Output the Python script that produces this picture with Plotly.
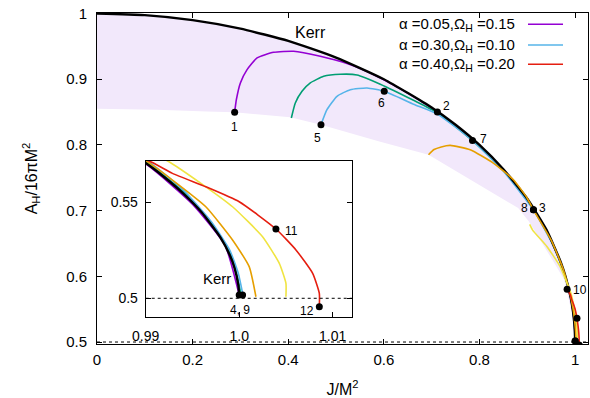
import plotly.graph_objects as go

# ---------------- data ----------------
kerr_J = [0.0, 0.1, 0.2, 0.3, 0.4, 0.5, 0.6, 0.7, 0.75, 0.8, 0.85, 0.9, 0.94, 0.97,
          0.98, 0.99, 0.992, 0.994, 0.996, 0.998, 0.999, 0.9995, 0.9999, 1.0]
kerr_A = [1.0, 0.9975, 0.9899, 0.977, 0.9583, 0.933, 0.9, 0.857, 0.8307, 0.8, 0.763, 0.718,
          0.671, 0.6216, 0.5995, 0.5705, 0.5631, 0.5547, 0.5447, 0.5316, 0.5224, 0.5158, 0.5071, 0.5017]

lower_J = [0.0, 0.126, 0.230, 0.2879, 0.404, 0.4685, 0.5925, 0.6934, 0.881, 0.903, 0.93, 0.955, 0.977, 0.993, 1.0]
lower_A = [0.855, 0.8537, 0.851, 0.8496, 0.842, 0.8308, 0.805, 0.785, 0.704, 0.684, 0.652, 0.622, 0.595, 0.545, 0.5017]

purple_J = [0.2879, 0.2915, 0.2999, 0.3139, 0.3348, 0.3695, 0.4113, 0.467, 0.523, 0.58, 0.64, 0.712,
            0.786, 0.85, 0.913, 0.95, 0.975, 0.99, 0.995, 0.9985, 1.0]
purple_A = [0.8496, 0.8689, 0.8944, 0.9146, 0.9325, 0.9410, 0.9426, 0.9349, 0.9238, 0.9065, 0.8830, 0.850,
            0.808, 0.762, 0.7025, 0.655, 0.610, 0.570, 0.549, 0.5274, 0.5017]

green_J = [0.4065, 0.4148, 0.4288, 0.4462, 0.474, 0.5089, 0.5438, 0.5925, 0.662, 0.711, 0.786, 0.85,
           0.913, 0.95, 0.975, 0.99, 0.994, 0.997, 0.999, 0.9998, 1.0002]
green_A = [0.841, 0.8639, 0.8816, 0.8944, 0.9044, 0.9075, 0.9065, 0.8925, 0.868, 0.8495, 0.806, 0.761,
           0.702, 0.654, 0.610, 0.5712, 0.5556, 0.5394, 0.5237, 0.5110, 0.5017]

blue_J = [0.4685, 0.481, 0.502, 0.5298, 0.5647, 0.6008, 0.662, 0.711, 0.7854, 0.85, 0.9129, 0.95, 0.975,
          0.990, 0.994, 0.997, 0.999, 0.9999, 1.0004]
blue_A = [0.8308, 0.8537, 0.874, 0.8841, 0.8867, 0.8816, 0.862, 0.8475, 0.8069, 0.760, 0.7012, 0.653, 0.609,
          0.5722, 0.5565, 0.5400, 0.5250, 0.5130, 0.5017]

orange_J = [0.6934, 0.705, 0.72, 0.7388, 0.7806, 0.829, 0.871, 0.899, 0.9129, 0.95, 0.975, 0.99,
            0.99286, 0.99643, 0.99929, 1.00107, 1.00179]
orange_A = [0.785, 0.793, 0.797, 0.7993, 0.7927, 0.7724, 0.747, 0.720, 0.7012, 0.655, 0.611, 0.5717,
            0.5616, 0.5477, 0.5304, 0.5165, 0.5008]

yellow_J = [0.905, 0.9115, 0.941, 0.9687, 0.986, 0.9923, 0.99643, 0.99929, 1.0025, 1.00429, 1.005, 1.005]
yellow_A = [0.679, 0.670, 0.6455, 0.6148, 0.5843, 0.5717, 0.5581, 0.5477, 0.5321, 0.5182, 0.5078, 0.5008]

red_J = [0.9833, 0.9903, 0.99286, 0.99643, 1.0, 1.00393, 1.00607, 1.00786, 1.00857, 1.00857]
red_A = [0.5803, 0.5717, 0.5651, 0.5581, 0.5503, 0.5361, 0.5252, 0.5130, 0.5026, 0.4956]

pt_id = ["1", "2", "3", "4", "5", "6", "7", "8", "9", "10", "11", "12"]
pt_J = [0.2879, 0.712, 0.9129, 1.0, 0.4685, 0.6008, 0.7854, 0.9129, 1.00036, 0.9833, 1.00393, 1.00857]
pt_A = [0.8496, 0.850, 0.7012, 0.5017, 0.8308, 0.8816, 0.8069, 0.7012, 0.5017, 0.5803, 0.5361, 0.4956]

legend_labels = ["α =0.05,Ω<sub>H</sub> =0.15", "α =0.30,Ω<sub>H</sub> =0.10", "α =0.40,Ω<sub>H</sub> =0.20"]

main_xticks = [0, 0.2, 0.4, 0.6, 0.8, 1.0]
main_xtext = ["0", "0.2", "0.4", "0.6", "0.8", "1"]
main_yticks = [0.5, 0.6, 0.7, 0.8, 0.9, 1.0]
main_ytext = ["0.5", "0.6", "0.7", "0.8", "0.9", "1"]
inset_xticks = [0.99, 1.0, 1.01]
inset_xtext = ["0.99", "1.0", "1.01"]
inset_yticks = [0.5, 0.55]
inset_ytext = ["0.5", "0.55"]

# ---------------- styles ----------------
FONT = "Liberation Sans, Arial, sans-serif"
LAV = "rgb(242,232,251)"
C_PURPLE = "#9400d3"
C_GREEN = "#009e73"
C_BLUE = "#56b4e9"
C_ORANGE = "#e69f00"
C_YELLOW = "#f0e442"
C_RED = "#e51e10"

# label placement (xshift, yshift in px) for point labels
main_label_pos = {"1": (0, -15), "2": (9, 6), "3": (9, 2), "5": (-3, -13), "6": (-3, -12),
                  "7": (11, 1), "8": (-9, 2), "10": (13, -1)}
inset_label_pos = {"11": (16, -2), "12": (-12, -4)}

fig = go.Figure()

# domain of existence
fig.add_trace(go.Scatter(x=kerr_J + lower_J[::-1], y=kerr_A + lower_A[::-1], mode="lines",
                         fill="toself", fillcolor=LAV, line=dict(width=0), hoverinfo="skip",
                         showlegend=False))

series = [
    (purple_J, purple_A, C_PURPLE, 1.6),
    (green_J, green_A, C_GREEN, 1.6),
    (blue_J, blue_A, C_BLUE, 1.6),
    (kerr_J, kerr_A, "black", 2.4),
    (orange_J, orange_A, C_ORANGE, 1.6),
    (yellow_J, yellow_A, C_YELLOW, 1.6),
    (red_J, red_A, C_RED, 1.6),
]

for xa, ya in (("x", "y"), ("x2", "y2")):
    for sx, sy, col, w in series:
        fig.add_trace(go.Scatter(x=sx, y=sy, mode="lines", line=dict(color=col, width=w, shape="spline",
                                 smoothing=0.5), xaxis=xa, yaxis=ya, showlegend=False, hoverinfo="skip"))
    fig.add_trace(go.Scatter(x=pt_J, y=pt_A, mode="markers", marker=dict(color="black", size=7),
                             xaxis=xa, yaxis=ya, showlegend=False, hoverinfo="skip"))

annotations = []
for pid, j, a in zip(pt_id, pt_J, pt_A):
    if pid in main_label_pos:
        dx, dy = main_label_pos[pid]
        annotations.append(dict(x=j, y=a, xref="x", yref="y", text=pid, showarrow=False,
                                xshift=dx, yshift=dy, font=dict(size=12, family=FONT, color="black")))
    if pid in inset_label_pos:
        dx, dy = inset_label_pos[pid]
        annotations.append(dict(x=j, y=a, xref="x2", yref="y2", text=pid, showarrow=False,
                                xshift=dx, yshift=dy, font=dict(size=12, family=FONT, color="black")))
annotations.append(dict(x=pt_J[3], y=pt_A[3], xref="x2", yref="y2", text=pt_id[3] + ", " + pt_id[8],
                        showarrow=False, xshift=1, yshift=-15, font=dict(size=12, family=FONT, color="black")))
annotations.append(dict(x=0.446, y=0.971, xref="x", yref="y", text="Kerr", showarrow=False,
                        font=dict(size=16, family=FONT, color="black")))
annotations.append(dict(x=0.99767, y=0.5104, xref="x2", yref="y2", text="Kerr", showarrow=False,
                        font=dict(size=15, family=FONT, color="black")))

# legend drawn gnuplot-style (text then line sample)
leg_y = [0.9659, 0.9033, 0.8450]
leg_cols = [C_PURPLE, C_BLUE, C_RED]
shapes = []
for lab, yy, col in zip(legend_labels, leg_y, leg_cols):
    annotations.append(dict(x=0.8554, y=yy, xref="paper", yref="paper", text=lab, showarrow=False,
                            xanchor="right", yanchor="middle", font=dict(size=15, family=FONT, color="black")))
    shapes.append(dict(type="line", xref="paper", yref="paper", x0=0.8778, x1=0.9491, y0=yy, y1=yy,
                       line=dict(color=col, width=1.6)))

# dotted lines at A = 1/2
shapes.append(dict(type="line", xref="x domain", yref="y", x0=0, x1=1, y0=0.5, y1=0.5,
                   line=dict(color="black", width=1, dash="dot"), layer="below"))
shapes.append(dict(type="line", xref="x2 domain", yref="y2", x0=0, x1=1, y0=0.5, y1=0.5,
                   line=dict(color="black", width=1, dash="dot")))

axis_common = dict(showline=True, linecolor="black", linewidth=1, ticks="inside", tickcolor="black",
                   ticklen=5, showgrid=False, zeroline=False)

fig.update_layout(
    width=590, height=398,
    margin=dict(l=97, r=2, t=13, b=54),
    paper_bgcolor="white", plot_bgcolor="white",
    font=dict(family=FONT, color="black", size=15),
    showlegend=False,
    xaxis=dict(range=[0, 1.027], tickvals=main_xticks, ticktext=main_xtext, mirror="ticks",
               tickfont=dict(size=15), ticklabelstandoff=2,
               title=dict(text="J/M<sup>2</sup>", font=dict(size=16), standoff=16), **axis_common),
    yaxis=dict(range=[0.497, 1.0008], tickvals=main_yticks, ticktext=main_ytext, mirror="ticks",
               tickfont=dict(size=15), ticklabelstandoff=6,
               title=dict(text="A<sub>H</sub>/16πM<sup>2</sup>", font=dict(size=16), standoff=24), **axis_common),
    xaxis2=dict(domain=[0.0992, 0.520], range=[0.99, 1.0121], anchor="y2", tickvals=inset_xticks,
                ticktext=inset_xtext, mirror=True, tickfont=dict(size=14), ticklabelstandoff=6, **axis_common),
    yaxis2=dict(domain=[0.0807, 0.5538], range=[0.4901, 0.5717], anchor="x2", tickvals=inset_yticks,
                ticktext=inset_ytext, mirror="ticks", tickfont=dict(size=14), ticklabelstandoff=4, **axis_common),
    annotations=annotations,
    shapes=shapes,
)

# remove the browser's default body margin so the 590x398 figure fills the window exactly
fig.write_html("out.html", config={"displayModeBar": False},
               post_script="document.body.style.margin='0';document.body.style.overflow='hidden';")
